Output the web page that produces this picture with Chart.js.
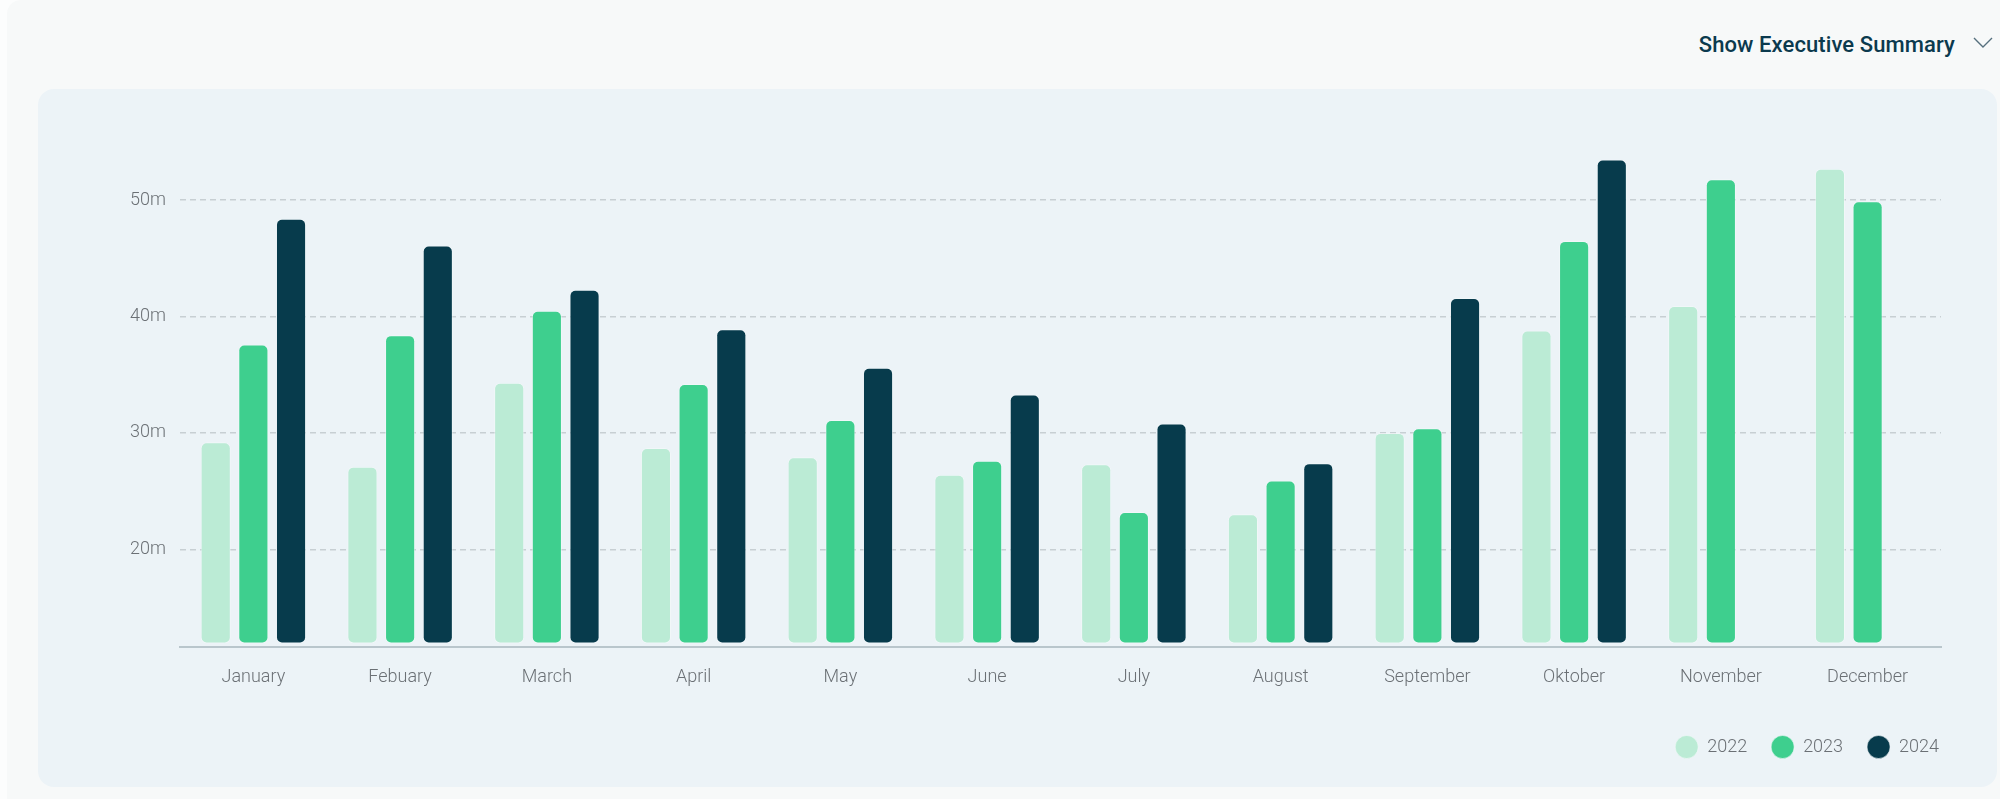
<!DOCTYPE html>
<html>
<head>
<meta charset="utf-8">
<script src="https://cdn.jsdelivr.net/npm/chart.js@4.4.1/dist/chart.umd.min.js"></script>
<style>
  html, body { margin: 0; padding: 0; width: 2000px; height: 799px; overflow: hidden; background: #fcfdfd; font-family: Roboto, "Noto Sans", sans-serif; }
  #card { position: absolute; left: 7px; top: 0; width: 2010px; height: 820px; background: #f7f9f9; border-radius: 14px; }
  #header { position: absolute; left: 1600px; top: 28px; width: 355px; text-align: right; font-size: 22px; font-weight: 500; color: #0b3a4e; line-height: 34px; letter-spacing: 0.1px; }
  #chev { position: absolute; left: 1972px; top: 36px; }
  #panel { position: absolute; left: 38px; top: 89px; width: 1959px; height: 698px; background: #ecf3f7; border-radius: 16px; }
  #wrap { position: absolute; left: 0; top: 0; width: 1959px; height: 698px; }
</style>
</head>
<body>
<div id="card"></div>
<div id="header">Show Executive Summary</div>
<svg id="chev" width="22" height="14" viewBox="0 0 22 14"><polyline points="2,2 11,11 20,2" fill="none" stroke="#56707e" stroke-width="1.4"/></svg>
<div id="panel"><div id="wrap"><canvas id="c"></canvas></div></div>
<script>
const categories = ["January", "Febuary", "March", "April", "May", "June", "July", "August", "September", "Oktober", "November", "December"];
const seriesNames = ["2022", "2023", "2024"];
const values2022 = [29.2, 27.1, 34.3, 28.7, 27.9, 26.4, 27.3, 23.0, 30.0, 38.8, 40.9, 52.7];
const values2023 = [37.6, 38.4, 40.5, 34.2, 31.1, 27.6, 23.2, 25.9, 30.4, 46.5, 51.8, 49.9];
const values2024 = [48.4, 46.1, 42.3, 38.9, 35.6, 33.3, 30.8, 27.4, 41.6, 53.5, null, null];
const yTickValues = [20, 30, 40, 50];
const yMin = 11.6, yMax = 55, barBase = 11.9;

const colors = ["#bbebd5", "#3ecf8e", "#073b4c"];
const allValues = [values2022, values2023, values2024];

const datasets = seriesNames.map((name, i) => ({
  label: name,
  data: allValues[i],
  backgroundColor: colors[i],
  borderColor: "rgba(246,250,252,0.55)",
  borderWidth: 1,
  borderRadius: 6,
  borderSkipped: false,
  base: barBase,
  categoryPercentage: 0.77,
  barPercentage: 0.8
}));

Chart.defaults.font.family = "Roboto, 'Noto Sans', sans-serif";

new Chart(document.getElementById("c"), {
  type: "bar",
  data: { labels: categories, datasets },
  options: {
    responsive: true,
    maintainAspectRatio: false,
    animation: false,
    events: [],
    layout: { padding: { top: 53, right: 34, bottom: 21, left: 0 } },
    plugins: {
      tooltip: { enabled: false },
      legend: {
        position: "bottom",
        align: "end",
        labels: {
          usePointStyle: true,
          pointStyle: "circle",
          boxHeight: 16.3,
          pointStyleWidth: 23,
          padding: 24,
          color: "#6b7075",
          font: { size: 18, weight: 300 }
        }
      }
    },
    scales: {
      x: {
        grid: { display: false, drawTicks: false },
        border: { display: true, color: "#b9c6cc", width: 2 },
        ticks: { padding: 20, color: "#6b7075", font: { size: 18, weight: 300 } },
        afterFit: s => { s.height = 67; }
      },
      y: {
        min: yMin,
        max: yMax,
        afterBuildTicks: s => { s.ticks = yTickValues.map(v => ({ value: v })); },
        afterFit: s => { s.width = 142; },
        grid: { color: "#c7cfd3", lineWidth: 1.5, drawTicks: false },
        border: { display: false, dash: [6, 4] },
        ticks: { padding: 14, color: "#6b7075", font: { size: 18, weight: 300 }, callback: v => v + "m" }
      },
      yr: {
        position: "right",
        display: true,
        grid: { display: false, drawTicks: false },
        border: { display: false },
        ticks: { display: false },
        afterFit: s => { s.width = 22; }
      }
    }
  }
});
</script>
</body>
</html>
